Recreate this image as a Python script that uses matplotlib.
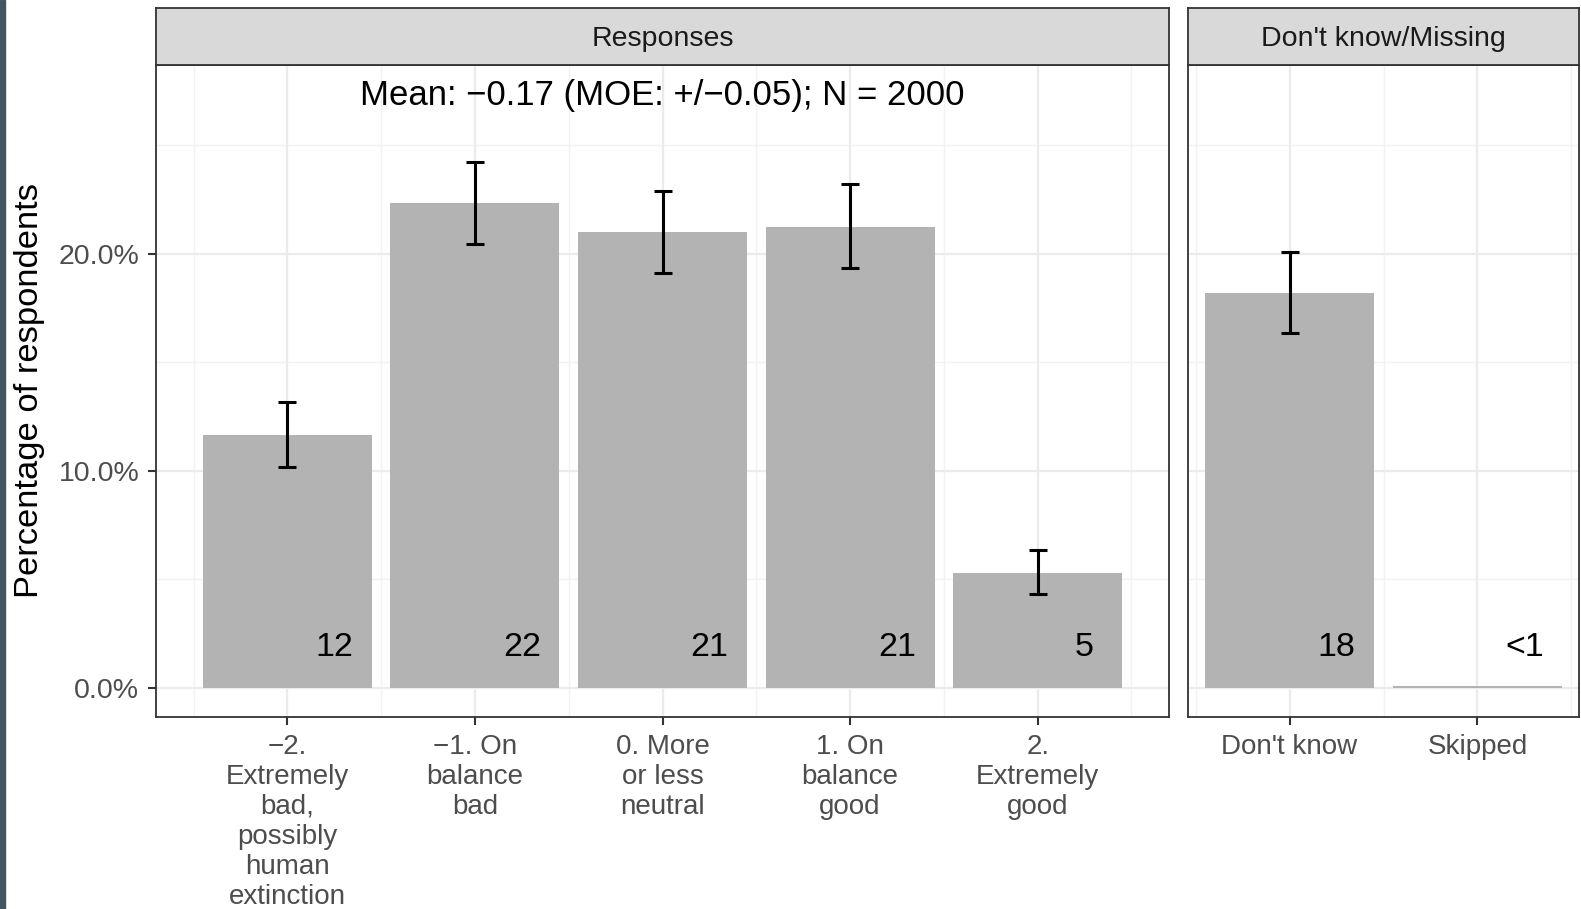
import matplotlib.pyplot as plt
import matplotlib.patches as mpatches
import numpy as np

plt.rcParams['font.family'] = ['Liberation Sans', 'DejaVu Sans']

# data
resp_labels = ['\u22122.\nExtremely\nbad,\npossibly\nhuman\nextinction',
               '\u22121. On\nbalance\nbad',
               '0. More\nor less\nneutral',
               '1. On\nbalance\ngood',
               '2.\nExtremely\ngood']
resp_pct = [11.65, 22.35, 21.0, 21.25, 5.3]
resp_lo = [10.15, 20.45, 19.1, 19.35, 4.3]
resp_hi = [13.15, 24.25, 22.9, 23.2, 6.35]
resp_text = ['12', '22', '21', '21', '5']

miss_labels = ["Don't know", 'Skipped']
miss_pct = [18.2, 0.05]
miss_lo = [16.35, None]
miss_hi = [20.1, None]
miss_text = ['18', '<1']

strip_titles = ['Responses', "Don't know/Missing"]
mean_text = 'Mean: \u22120.17 (MOE: +/\u22120.05); N = 2000'

W, H = 1581, 909
fig = plt.figure(figsize=(W / 100, H / 100), dpi=100)
fig.patches.append(mpatches.Rectangle((0, 0), 5 / W, 1, transform=fig.transFigure,
                                      color='#405660', zorder=0))

def px_axes(x0, x1, y0, y1):
    return fig.add_axes([x0 / W, 1 - y1 / H, (x1 - x0) / W, (y1 - y0) / H])

ylo, yhi = -1.36, 28.7
bar_col = '#b3b3b3'

def panel(ax, labels, pct, lo, hi, texts, xlim):
    n = len(labels)
    xs = np.arange(1, n + 1)
    ax.set_xlim(*xlim)
    ax.set_ylim(ylo, yhi)
    ax.set_axisbelow(True)
    for m in np.arange(0.5, n + 1, 1.0):
        ax.axvline(m, color='#f2f2f2', lw=1.0, zorder=0)
    for m in [5, 15, 25]:
        ax.axhline(m, color='#f2f2f2', lw=1.0, zorder=0)
    ax.grid(True, which='major', color='#ebebeb', lw=1.6, zorder=0)
    ax.bar(xs, pct, width=0.9, color=bar_col, zorder=2)
    for x, l, h in zip(xs, lo, hi):
        if l is None:
            continue
        ax.errorbar([x], [(l + h) / 2], yerr=[[(h - l) / 2], [(h - l) / 2]], fmt='none',
                    ecolor='black', elinewidth=2.2, capsize=6.8, capthick=2.2, zorder=3)
    for x, t in zip(xs, texts):
        ax.text(x + 0.25, 1.85, t, ha='center', va='center', fontsize=24.5, color='black', zorder=4)
    ax.set_xticks(xs)
    ax.set_xticklabels(labels, fontsize=20, color='#4d4d4d', linespacing=1.2)
    ax.set_yticks([0, 10, 20])
    ax.tick_params(length=6, width=1.5, color='#333333', pad=6)
    for s in ax.spines.values():
        s.set_color('#333333')
        s.set_linewidth(1.3)

def strip(x0, x1, title):
    sa = px_axes(x0, x1, 8, 65)
    sa.set_xticks([])
    sa.set_yticks([])
    sa.set_facecolor('#d9d9d9')
    for s in sa.spines.values():
        s.set_color('#333333')
        s.set_linewidth(1.3)
    sa.text(0.5, 0.46, title, ha='center', va='center', fontsize=20.5, color='#1a1a1a',
            transform=sa.transAxes)

ax1 = px_axes(156, 1169, 65, 717)
panel(ax1, resp_labels, resp_pct, resp_lo, resp_hi, resp_text, (0.3, 5.7))
ax1.set_yticklabels(['0.0%', '10.0%', '20.0%'], fontsize=20.5, color='#4d4d4d')
ax1.set_ylabel('Percentage of respondents', fontsize=24.8, labelpad=10)
ax1.text(3, 27.3, mean_text, ha='center', va='center', fontsize=25, color='black')

ax2 = px_axes(1188, 1579, 65, 717)
panel(ax2, miss_labels, miss_pct, miss_lo, miss_hi, miss_text, (0.46, 2.54))
ax2.tick_params(axis='y', left=False, labelleft=False)

strip(156, 1169, strip_titles[0])
strip(1188, 1579, strip_titles[1])

fig.savefig('out.png', dpi=100)
